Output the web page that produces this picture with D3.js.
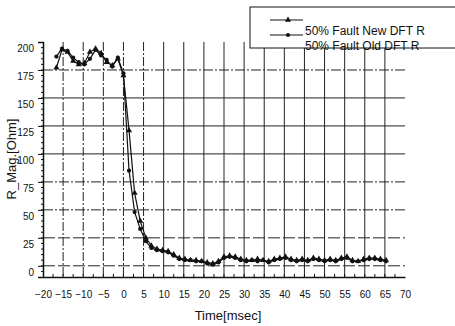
<!DOCTYPE html>
<html>
<head>
<meta charset="utf-8">
<script src="https://cdn.jsdelivr.net/npm/d3@7"></script>
<style>
  body { margin: 0; background: #fff; }
  text { font-family: "Liberation Sans", Arial, sans-serif; fill: #111; }
</style>
</head>
<body>
<div id="chart"></div>
<script>
// Data: sample times (12 samples per 60 Hz cycle) and the two R magnitude series
var timeMs = [-16.67, -15.28, -13.89, -12.5, -11.11, -9.72, -8.33, -6.94, -5.56, -4.17,
  -2.78, -1.39, 0, 1.39, 2.78, 4.17, 5.56, 6.94, 8.33, 9.72,
  11.11, 12.5, 13.89, 15.28, 16.67, 18.06, 19.44, 20.83, 22.22, 23.61,
  25, 26.39, 27.78, 29.17, 30.56, 31.94, 33.33, 34.72, 36.11, 37.5,
  38.89, 40.28, 41.67, 43.06, 44.44, 45.83, 47.22, 48.61, 50, 51.39,
  52.78, 54.17, 55.56, 56.94, 58.33, 59.72, 61.11, 62.5, 63.89, 65.28];

var newDft = [177, 193, 191, 183, 180, 181, 191, 194, 190, 182,
  179, 185, 170, 121, 65, 40, 25, 18, 15, 14,
  13, 10, 7, 6, 5, 5, 4, 3, 2, 4,
  8, 9, 8, 6, 5, 5, 6, 5, 4, 6,
  7, 8, 6, 5, 6, 5, 7, 6, 5, 6,
  5, 7, 8, 5, 4, 6, 7, 7, 6, 5];

var oldDft = [187, 194, 192, 186, 182, 180, 185, 193, 188, 184,
  178, 186, 172, 85, 48, 33, 22, 16, 14, 13,
  12, 9, 6, 5, 5, 4, 4, 2, 1, 3,
  7, 8, 7, 5, 4, 5, 4, 5, 3, 5,
  6, 7, 5, 4, 5, 4, 6, 5, 4, 5,
  4, 6, 7, 4, 4, 5, 6, 6, 5, 4];

var xTicks = [-20, -15, -10, -5, 0, 5, 10, 15, 20, 25, 30, 35, 40, 45, 50, 55, 60, 65, 70];
var yTicks = [0, 25, 50, 75, 100, 125, 150, 175, 200];
var legendNames = ["50% Fault New DFT R", "50% Fault Old DFT R"];

var width = 455;
var height = 326;

var svg = d3.select("#chart")
  .append("svg")
  .attr("width", width)
  .attr("height", height);

// scales
var xScale = d3.scaleLinear().domain([-20, 70]).range([43, 405]);
var yScale = d3.scaleLinear().domain([-10, 200]).range([277, 42]);

// grid lines (scanned look: some dash-dot, some solid)
var vDash = { "-15": "9,2,2,2", "-10": "9,2,2,2", "-5": "9,2,2,2", "0": "9,2,2,2", "5": "9,2,2,2" };
var hDash = { "175": "10,2,2,2", "75": "10,2,2,2", "50": "10,2,2,2", "25": "12,3", "0": "12,3" };

svg.append("g")
  .selectAll("line")
  .data(xTicks.filter(function (d) { return d > -20 && d < 70; }))
  .enter()
  .append("line")
  .attr("x1", function (d) { return xScale(d); })
  .attr("x2", function (d) { return xScale(d); })
  .attr("y1", yScale(200))
  .attr("y2", yScale(-10))
  .attr("stroke", "#222")
  .attr("stroke-width", 1)
  .attr("stroke-dasharray", function (d) { return vDash[d] || null; });

svg.append("g")
  .selectAll("line")
  .data(yTicks.filter(function (d) { return d < 200; }))
  .enter()
  .append("line")
  .attr("x1", xScale(-20))
  .attr("x2", xScale(70))
  .attr("y1", function (d) { return yScale(d); })
  .attr("y2", function (d) { return yScale(d); })
  .attr("stroke", "#222")
  .attr("stroke-width", 1)
  .attr("stroke-dasharray", function (d) { return hDash[d] || null; });

// axes
var xAxis = d3.axisBottom(xScale).tickValues(xTicks).tickSize(0).tickPadding(14);
var yAxis = d3.axisLeft(yScale).tickValues(yTicks).tickSize(5).tickPadding(4);

var gx = svg.append("g")
  .attr("class", "xAxis")
  .attr("transform", "translate(0," + yScale(-10) + ")")
  .call(xAxis);
gx.select(".domain").attr("stroke", "#111").attr("stroke-width", 1.3);
gx.selectAll("text").attr("font-size", 10);

var gy = svg.append("g")
  .attr("class", "yAxis")
  .attr("transform", "translate(" + xScale(-20) + ",0)")
  .call(yAxis);
gy.select(".domain").attr("stroke", "#111").attr("stroke-width", 1.5);
gy.selectAll(".tick line").attr("stroke", "#111");
gy.selectAll("text").attr("font-size", 10).attr("dy", "0.95em");

// minor ticks on the x axis (every 2.5 ms, pointing up)
var xMinor = d3.range(-17.5, 70, 2.5);
svg.append("g")
  .selectAll("line")
  .data(xMinor)
  .enter()
  .append("line")
  .attr("x1", function (d) { return xScale(d); })
  .attr("x2", function (d) { return xScale(d); })
  .attr("y1", yScale(-10))
  .attr("y2", yScale(-10) - 3)
  .attr("stroke", "#111");

// minor ticks on the y axis
var yMinor = d3.range(-5, 200, 5);
svg.append("g")
  .selectAll("line")
  .data(yMinor)
  .enter()
  .append("line")
  .attr("x1", xScale(-20))
  .attr("x2", xScale(-20) - 2)
  .attr("y1", function (d) { return yScale(d); })
  .attr("y2", function (d) { return yScale(d); })
  .attr("stroke", "#111");

// axis titles
svg.append("text")
  .attr("x", 228)
  .attr("y", 320)
  .attr("text-anchor", "middle")
  .attr("font-size", 13)
  .text("Time[msec]");

svg.append("text")
  .attr("transform", "translate(16,159)rotate(-90)")
  .attr("text-anchor", "middle")
  .attr("font-size", 13)
  .text("R_Mag.[Ohm]");

// series lines
var line = d3.line()
  .x(function (d) { return xScale(d[0]); })
  .y(function (d) { return yScale(d[1]); });

var newPts = timeMs.map(function (t, i) { return [t, newDft[i]]; });
var oldPts = timeMs.map(function (t, i) { return [t, oldDft[i]]; });

svg.append("path")
  .datum(oldPts)
  .attr("d", line)
  .attr("fill", "none")
  .attr("stroke", "#111")
  .attr("stroke-width", 1.2);

svg.append("path")
  .datum(newPts)
  .attr("d", line)
  .attr("fill", "none")
  .attr("stroke", "#111")
  .attr("stroke-width", 1.2);

var tri = d3.symbol().type(d3.symbolTriangle).size(16);
var dot = d3.symbol().type(d3.symbolCircle).size(14);

svg.append("g")
  .selectAll("path")
  .data(oldPts)
  .enter()
  .append("path")
  .attr("d", dot)
  .attr("transform", function (d) { return "translate(" + xScale(d[0]) + "," + yScale(d[1]) + ")"; })
  .attr("fill", "#111");

svg.append("g")
  .selectAll("path")
  .data(newPts)
  .enter()
  .append("path")
  .attr("d", tri)
  .attr("transform", function (d) { return "translate(" + xScale(d[0]) + "," + yScale(d[1]) + ")"; })
  .attr("fill", "#111");

// legend box (runs off the right edge like the scan)
var legend = svg.append("g").attr("class", "legend");

legend.append("rect")
  .attr("x", 250)
  .attr("y", 7)
  .attr("width", 220)
  .attr("height", 41)
  .attr("fill", "#fff")
  .attr("stroke", "#111")
  .attr("stroke-width", 1);

var legendY = [20, 35];
var legendSym = [tri, dot];

legendNames.forEach(function (name, i) {
  legend.append("line")
    .attr("x1", 270)
    .attr("x2", 303)
    .attr("y1", legendY[i])
    .attr("y2", legendY[i])
    .attr("stroke", "#111")
    .attr("stroke-width", 1.2);
  legend.append("path")
    .attr("d", legendSym[i])
    .attr("transform", "translate(288," + legendY[i] + ")")
    .attr("fill", "#111");
  legend.append("text")
    .attr("x", 305)
    .attr("y", 35 + i * 14.5)
    .attr("font-size", 12)
    .text(name);
});
</script>
</body>
</html>
